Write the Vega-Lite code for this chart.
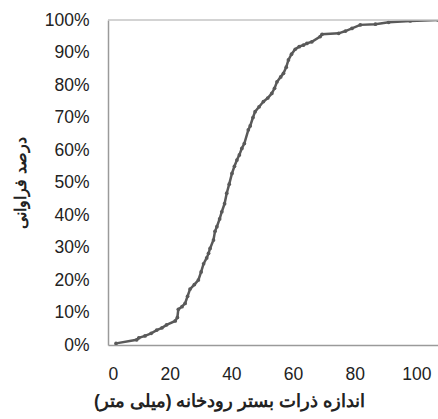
{
  "$schema": "https://vega.github.io/schema/vega-lite/v6.json",
  "width": 330,
  "height": 325,
  "autosize": {"type": "none"},
  "padding": {"left": 108, "top": 20, "right": 0, "bottom": 74},
  "config": {
    "view": {"stroke": null},
    "font": "Liberation Sans",
    "axis": {"labelFont": "Liberation Sans", "labelFontSize": 17.5, "labelColor": "#222222", "labelOverlap": false, "titleFont": "Liberation Sans", "titleFontSize": 16, "titleFontWeight": "bold", "titleColor": "#222222", "grid": false, "ticks": false, "domainColor": "#9a9a9a", "domainWidth": 1.5}
  },
  "layer": [
    {
      "data": {"values": [
        {"size": 2.6, "pct": 0.5},
        {"size": 9.3, "pct": 1.6},
        {"size": 10, "pct": 2.2},
        {"size": 12, "pct": 2.8},
        {"size": 14, "pct": 3.6},
        {"size": 15.8, "pct": 4.6},
        {"size": 17.5, "pct": 5.3},
        {"size": 19, "pct": 6.2},
        {"size": 21.8, "pct": 7.4},
        {"size": 22.5, "pct": 8.5},
        {"size": 22.8, "pct": 11.0},
        {"size": 24, "pct": 11.8},
        {"size": 25, "pct": 12.8},
        {"size": 25.8, "pct": 15.0},
        {"size": 26.6, "pct": 17.2},
        {"size": 28, "pct": 18.6},
        {"size": 29.3, "pct": 20.0},
        {"size": 30.2, "pct": 22.5},
        {"size": 31, "pct": 25.0},
        {"size": 32, "pct": 26.8},
        {"size": 32.6, "pct": 28.2},
        {"size": 33.1, "pct": 29.7},
        {"size": 34.2, "pct": 32.3},
        {"size": 34.7, "pct": 35.0},
        {"size": 35.3, "pct": 36.4},
        {"size": 36.2, "pct": 38.8},
        {"size": 36.9, "pct": 41.0},
        {"size": 37.8, "pct": 43.5},
        {"size": 38.5, "pct": 46.7},
        {"size": 39.3, "pct": 49.5},
        {"size": 40.2, "pct": 52.8},
        {"size": 41, "pct": 55.0},
        {"size": 41.8, "pct": 56.9},
        {"size": 42.6, "pct": 58.5},
        {"size": 43.4, "pct": 60.5},
        {"size": 44.2, "pct": 62.0},
        {"size": 45.5, "pct": 66.2},
        {"size": 46.1, "pct": 67.4},
        {"size": 47, "pct": 70.0},
        {"size": 47.7, "pct": 71.8},
        {"size": 49, "pct": 73.3},
        {"size": 50.4, "pct": 74.9},
        {"size": 51.8, "pct": 76.0},
        {"size": 53.1, "pct": 77.4},
        {"size": 54, "pct": 79.0},
        {"size": 54.8, "pct": 81.0},
        {"size": 56, "pct": 82.5},
        {"size": 56.9, "pct": 83.6},
        {"size": 57.8, "pct": 85.5},
        {"size": 58.5, "pct": 87.7},
        {"size": 59.5, "pct": 89.5},
        {"size": 60.7, "pct": 91.0},
        {"size": 62, "pct": 91.8},
        {"size": 63.4, "pct": 92.3},
        {"size": 64.5, "pct": 92.8},
        {"size": 66.1, "pct": 93.3},
        {"size": 68.8, "pct": 94.9},
        {"size": 69.4, "pct": 95.6},
        {"size": 74.8, "pct": 95.9},
        {"size": 77, "pct": 96.6},
        {"size": 79.1, "pct": 97.4},
        {"size": 81.8, "pct": 98.5},
        {"size": 86.7, "pct": 98.7},
        {"size": 91, "pct": 99.3},
        {"size": 98, "pct": 99.7},
        {"size": 107, "pct": 100}
      ]},
      "mark": {"type": "line", "color": "#595959", "strokeWidth": 2.5, "clip": true, "point": {"filled": true, "size": 14, "color": "#595959"}},
      "encoding": {
        "x": {"field": "size", "type": "quantitative", "scale": {"domain": [0, 107], "nice": false}, "axis": {"values": [0, 20, 40, 60, 80, 100], "labelPadding": 20, "title": "اندازه ذرات بستر رودخانه (میلی متر)", "titleFontSize": 17.5, "titlePadding": 10, "titleX": 121}},
        "y": {"field": "pct", "type": "quantitative", "scale": {"domain": [0, 100], "nice": false}, "axis": {"values": [0, 10, 20, 30, 40, 50, 60, 70, 80, 90, 100], "labelOverlap": false, "labelExpr": "datum.value + '%'", "labelPadding": 19, "title": "درصد فراوانی", "titlePadding": 16}}
      }
    },
    {
      "data": {"values": [{"pct": 100}]},
      "mark": {"type": "rule", "color": "#c4c4c4", "strokeWidth": 1.5},
      "encoding": {"y": {"field": "pct", "type": "quantitative", "axis": {"values": [0, 10, 20, 30, 40, 50, 60, 70, 80, 90, 100], "labelOverlap": false, "labelExpr": "datum.value + '%'", "labelPadding": 19, "title": "درصد فراوانی", "titlePadding": 16}}}
    }
  ]
}
